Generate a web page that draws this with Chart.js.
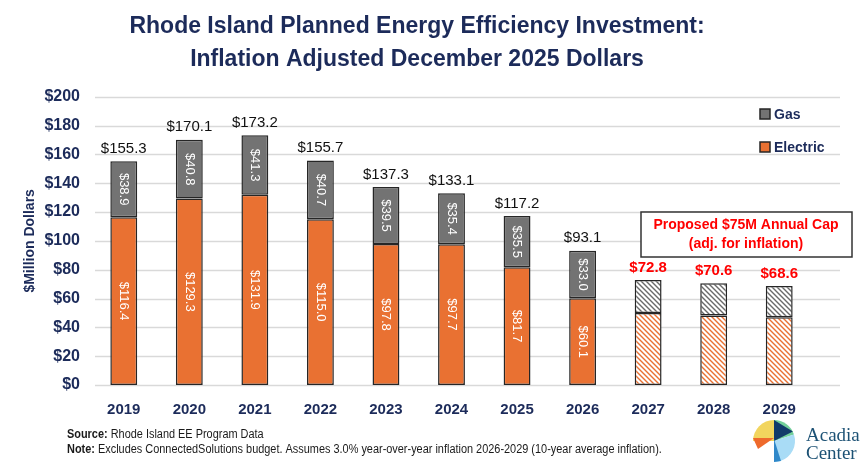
<!DOCTYPE html>
<html>
<head>
<meta charset="utf-8">
<title>Rhode Island Planned Energy Efficiency Investment</title>
<script src="https://cdn.jsdelivr.net/npm/chart.js@4.4.1/dist/chart.umd.min.js"></script>
<style>
  html, body { margin: 0; padding: 0; background: #fff; }
  #wrap { width: 867px; height: 462px; position: relative; }
</style>
</head>
<body>
<div id="wrap"><canvas id="eeChart"></canvas></div>
<script>
// --- data ---
const years = ['2019', '2020', '2021', '2022', '2023', '2024', '2025', '2026', '2027', '2028', '2029'];
const electric = [116.4, 129.3, 131.9, 115.0, 97.8, 97.7, 81.7, 60.1, 50.0, 48.3, 47.0];
const gas = [38.9, 40.8, 41.3, 40.7, 39.5, 35.4, 35.5, 33.0, 22.8, 22.3, 21.6];
const planned = [false, false, false, false, false, false, false, false, true, true, true];
const yTicks = [0, 20, 40, 60, 80, 100, 120, 140, 160, 180, 200];

// colours
const navy = '#1c2b5a';
const orange = '#e97132';
const grey = '#737373';
const edge = '#262626';
const red = '#ff0000';

function stripes(color) {
    const c = document.createElement('canvas');
    c.width = 5; c.height = 5;
    const g = c.getContext('2d');
    g.fillStyle = '#fff';
    g.fillRect(0, 0, 5, 5);
    g.strokeStyle = color;
    g.lineWidth = 1.4;
    g.beginPath();
    g.moveTo(-1, -1); g.lineTo(6, 6);
    g.moveTo(-1, 4); g.lineTo(1, 6);
    g.moveTo(4, -1); g.lineTo(6, 1);
    g.stroke();
    return g.createPattern(c, 'repeat');
}
const orangeHatch = stripes(orange);
const greyHatch = stripes('#6a6a6a');

const money = v => '$' + v.toFixed(1);

// light grid lines that run a bit past the last bar (legend sits there)
const gridLines = {
    id: 'gridLines',
    beforeDatasetsDraw(chart) {
        const { ctx, chartArea, scales } = chart;
        ctx.save();
        ctx.strokeStyle = '#d9d9d9';
        ctx.lineWidth = 1.5;
        yTicks.forEach(t => {
            const y = Math.round(scales.y.getPixelForValue(t)) + 0.5;
            ctx.beginPath();
            ctx.moveTo(chartArea.left + 4, y);
            ctx.lineTo(chartArea.right + 28, y);
            ctx.stroke();
        });
        ctx.restore();
    }
};

// value labels: rotated inside segments, totals above bars
const barLabels = {
    id: 'barLabels',
    afterDatasetsDraw(chart) {
        const ctx = chart.ctx;
        const eMeta = chart.getDatasetMeta(0);
        const gMeta = chart.getDatasetMeta(1);
        ctx.save();
        years.forEach((yr, i) => {
            const eBar = eMeta.data[i];
            const gBar = gMeta.data[i];
            if (!planned[i]) {
                ctx.fillStyle = '#ffffff';
                ctx.font = '13px "Liberation Sans", Arial, sans-serif';
                ctx.textAlign = 'center';
                ctx.textBaseline = 'middle';
                [[eBar, electric[i]], [gBar, gas[i]]].forEach(([bar, v]) => {
                    ctx.save();
                    ctx.translate(bar.x, (bar.y + bar.base) / 2);
                    ctx.rotate(Math.PI / 2);
                    ctx.fillText(money(v), 0, 0);
                    ctx.restore();
                });
            }
            const total = electric[i] + gas[i];
            ctx.textAlign = 'center';
            ctx.textBaseline = 'bottom';
            if (planned[i]) {
                ctx.fillStyle = red;
                ctx.font = 'bold 15px "Liberation Sans", Arial, sans-serif';
            } else {
                ctx.fillStyle = '#111';
                ctx.font = '15px "Liberation Sans", Arial, sans-serif';
            }
            ctx.fillText(money(total), gBar.x, gBar.y - 5);
        });
        ctx.restore();
    }
};

// legend, cap note, footnotes and logo
const extras = {
    id: 'extras',
    afterDraw(chart) {
        const ctx = chart.ctx;
        const ds = chart.data.datasets;
        ctx.save();

        // legend (Gas on top)
        const items = [[ds[1].label, grey, 114], [ds[0].label, orange, 147]];
        items.forEach(([txt, col, y]) => {
            ctx.fillStyle = col;
            ctx.fillRect(760, y - 5, 10, 10);
            ctx.strokeStyle = edge;
            ctx.lineWidth = 1.5;
            ctx.strokeRect(760, y - 5, 10, 10);
            ctx.fillStyle = navy;
            ctx.font = 'bold 14px "Liberation Sans", Arial, sans-serif';
            ctx.textAlign = 'left';
            ctx.textBaseline = 'middle';
            ctx.fillText(txt, 774, y + 1);
        });

        // proposed cap box
        ctx.fillStyle = '#fff';
        ctx.fillRect(641, 212, 211, 45);
        ctx.strokeStyle = '#333';
        ctx.lineWidth = 1.5;
        ctx.strokeRect(641, 212, 211, 45);
        ctx.fillStyle = red;
        ctx.font = 'bold 14px "Liberation Sans", Arial, sans-serif';
        ctx.textAlign = 'center';
        ctx.textBaseline = 'middle';
        ctx.fillText('Proposed $75M Annual Cap', 746, 225);
        ctx.fillText('(adj. for inflation)', 746, 244);

        // footnotes (condensed a little, like the original face)
        ctx.textAlign = 'left';
        ctx.textBaseline = 'middle';
        ctx.fillStyle = '#1a1a1a';
        const foot = [['Source:', ' Rhode Island EE Program Data', 435],
                      ['Note:', ' Excludes ConnectedSolutions budget. Assumes 3.0% year-over-year inflation 2026-2029 (10-year average inflation).', 450]];
        foot.forEach(([b, r, y]) => {
            ctx.save();
            ctx.translate(67, y);
            ctx.scale(0.91, 1);
            ctx.font = 'bold 12px "Liberation Sans", Arial, sans-serif';
            ctx.fillText(b, 0, 0);
            const w = ctx.measureText(b).width;
            ctx.font = '12px "Liberation Sans", Arial, sans-serif';
            ctx.fillText(r, w, 0);
            ctx.restore();
        });

        // Acadia Center mark
        const cx = 774, cy = 441, r = 21;
        const wedge = (a0, a1, col) => {
            ctx.beginPath();
            ctx.moveTo(cx, cy);
            ctx.arc(cx, cy, r, a0, a1);
            ctx.closePath();
            ctx.fillStyle = col;
            ctx.fill();
        };
        wedge(Math.PI, Math.PI * 1.5, '#f2d55e');
        wedge(Math.PI * 1.5, Math.PI * 1.9, '#72cf9a');
        wedge(Math.PI * 1.9, Math.PI * 2.5, '#a9dcf6');
        ctx.fillStyle = '#ee6a2c';
        ctx.beginPath();
        ctx.moveTo(cx, cy - 3); ctx.lineTo(cx - r, cy - 3); ctx.lineTo(cx - r + 5, cy + 8); ctx.closePath();
        ctx.fill();
        ctx.fillStyle = '#113a6a';
        ctx.beginPath();
        ctx.moveTo(cx, cy); ctx.lineTo(cx, cy - r); ctx.lineTo(cx + r * 0.9, cy - r * 0.45); ctx.closePath();
        ctx.fill();
        ctx.fillStyle = '#2f88c9';
        ctx.beginPath();
        ctx.moveTo(cx, cy - 2); ctx.lineTo(cx + 7, cy + r - 1); ctx.lineTo(cx, cy + r); ctx.closePath();
        ctx.fill();
        ctx.fillStyle = '#1d5275';
        ctx.font = '19px "Liberation Serif", "DejaVu Serif", serif';
        ctx.textBaseline = 'alphabetic';
        ctx.fillText('Acadia', 806, 441);
        ctx.fillText('Center', 806, 459);

        ctx.restore();
    }
};

const ctx = document.getElementById('eeChart').getContext('2d');
new Chart(ctx, {
    type: 'bar',
    data: {
        labels: years,
        datasets: [{
            label: 'Electric',
            data: electric,
            backgroundColor: planned.map(p => p ? orangeHatch : orange),
            borderColor: edge,
            borderWidth: 1.5,
            borderSkipped: false,
            barPercentage: 0.41,
            categoryPercentage: 1
        },
        {
            label: 'Gas',
            data: gas,
            backgroundColor: planned.map(p => p ? greyHatch : grey),
            borderColor: edge,
            borderWidth: 1.5,
            borderSkipped: false,
            barPercentage: 0.41,
            categoryPercentage: 1
        }]
    },
    options: {
        responsive: true,
        maintainAspectRatio: false,
        animation: false,
        layout: {
            padding: { top: 6, left: 22, right: 55, bottom: 35 }
        },
        scales: {
            x: {
                stacked: true,
                grid: { display: false },
                border: { display: false },
                ticks: {
                    color: navy,
                    padding: 8,
                    font: { family: '"Liberation Sans", Arial, sans-serif', size: 15, weight: 'bold' }
                }
            },
            y: {
                stacked: true,
                min: 0,
                max: 200,
                grid: { display: false, drawTicks: false, tickLength: 0 },
                border: { display: false },
                afterBuildTicks: axis => { axis.ticks = yTicks.map(v => ({ value: v })); },
                afterFit: axis => { axis.width = 69; },
                ticks: {
                    color: navy,
                    padding: 11,
                    font: { family: '"Liberation Sans", Arial, sans-serif', size: 16, weight: 'bold' },
                    callback: v => '$' + v
                },
                title: {
                    display: true,
                    text: '$Million Dollars',
                    color: navy,
                    padding: { top: 0, bottom: 0 },
                    font: { family: '"Liberation Sans", Arial, sans-serif', size: 14, weight: 'bold' }
                }
            }
        },
        plugins: {
            legend: { display: false },
            tooltip: { enabled: false },
            title: {
                display: true,
                text: ['Rhode Island Planned Energy Efficiency Investment:', 'Inflation Adjusted December 2025 Dollars'],
                color: navy,
                padding: { top: 4, bottom: 20 },
                font: { family: '"Liberation Sans", Arial, sans-serif', size: 23, weight: 'bold', lineHeight: 1.45 }
            }
        }
    },
    plugins: [gridLines, barLabels, extras]
});
</script>
</body>
</html>
